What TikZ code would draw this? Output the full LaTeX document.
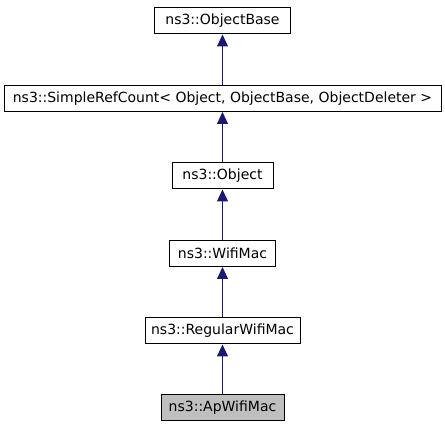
\documentclass[tikz,border=0pt]{standalone}
\usepackage{fontspec}
\setmainfont{DejaVu Sans}
\usetikzlibrary{arrows.meta}
\definecolor{edgeblue}{HTML}{191970}
\tikzset{
  cls/.style={
    rectangle, draw=black, line width=1pt, fill=white,
    minimum height=26pt, inner sep=0pt, text centered,
    font=\fontsize{14}{16}\selectfont
  },
  current/.style={
    cls, fill=gray!50
  },
  inherit/.style={
    -{Triangle[length=12pt,width=11pt]}, line width=1pt, color=edgeblue
  }
}

\begin{document}
\begin{tikzpicture}[x=1pt, y=-1pt]
  \useasboundingbox (0,0) rectangle (445,427);

  % Class nodes
  \node[cls, minimum width=136pt] (objbase) at (222.5,21) {ns3::ObjectBase};
  \node[cls, minimum width=437pt] (refcount) at (222.5,98.5) {ns3::SimpleRefCount< Object, ObjectBase, ObjectDeleter >};
  \node[cls, minimum width=101pt] (object) at (222.5,176) {ns3::Object};
  \node[cls, minimum width=106pt] (wifimac) at (222.5,253.5) {ns3::WifiMac};
  \node[cls, minimum width=155pt] (regmac) at (222.5,331) {ns3::RegularWifiMac};
  \node[current, minimum width=123pt] (apmac) at (222.5,408) {ns3::ApWifiMac};

  % Inheritance arrows
  \draw[inherit] (refcount.north) -- (objbase.south);
  \draw[inherit] (object.north) -- (refcount.south);
  \draw[inherit] (wifimac.north) -- (object.south);
  \draw[inherit] (regmac.north) -- (wifimac.south);
  \draw[inherit] (apmac.north) -- (regmac.south);
\end{tikzpicture}
\end{document}
